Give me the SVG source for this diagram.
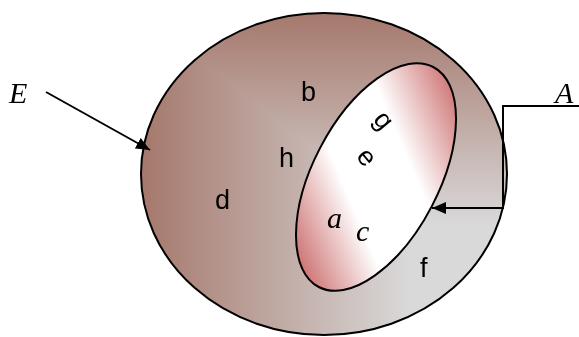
<svg xmlns="http://www.w3.org/2000/svg" width="579" height="337" viewBox="0 0 579 337">
  <style>
    .edge { fill: none; stroke: #000; stroke-width: 2; }
    .line { fill: none; stroke: #000; stroke-width: 2; }
    .sans { font-family: "Liberation Sans", Arial, sans-serif; font-size: 27px; fill: #000; }
    .math { font-family: "Liberation Serif", "Times New Roman", serif; font-style: italic; fill: #000; }
  </style>
  <defs>
    <linearGradient id="gh" gradientUnits="userSpaceOnUse" x1="141" y1="0" x2="410" y2="0">
      <stop offset="0" stop-color="#a5786c"/>
      <stop offset="1" stop-color="#d9d9d9"/>
    </linearGradient>
    <linearGradient id="gv" gradientUnits="userSpaceOnUse" x1="0" y1="13" x2="0" y2="225">
      <stop offset="0" stop-color="#a5786c"/>
      <stop offset="1" stop-color="#d9d9d9"/>
    </linearGradient>
    <linearGradient id="gi" gradientUnits="userSpaceOnUse" x1="300" y1="270" x2="455" y2="82">
      <stop offset="0" stop-color="#c45656"/>
      <stop offset="0.36" stop-color="#ffffff"/>
      <stop offset="0.64" stop-color="#ffffff"/>
      <stop offset="1" stop-color="#c45656"/>
    </linearGradient>
    <marker id="ah" viewBox="0 0 14 12" refX="14" refY="6" markerWidth="14" markerHeight="12" markerUnits="userSpaceOnUse" orient="auto">
      <path d="M0,0 L14,6 L0,12 Z" fill="#000"/>
    </marker>
  </defs>

  <g id="E-set">
    <ellipse cx="324" cy="174" rx="183" ry="161" fill="url(#gh)"/>
    <ellipse cx="324" cy="174" rx="183" ry="161" fill="url(#gv)" style="mix-blend-mode: darken"/>
    <ellipse class="edge" cx="324" cy="174" rx="183" ry="161"/>
  </g>

  <g id="A-set">
    <ellipse cx="376" cy="177" rx="63" ry="124" transform="rotate(27.5 376 177)" fill="url(#gi)"/>
    <ellipse class="edge" cx="376" cy="177" rx="63" ry="124" transform="rotate(27.5 376 177)"/>
  </g>

  <g id="connectors">
    <line class="line" x1="46" y1="92" x2="150" y2="150" marker-end="url(#ah)"/>
    <polyline class="line" points="579,106 503,106 503,208 432,208" marker-end="url(#ah)"/>
  </g>

  <g id="labels">
    <text class="math" x="9" y="103" font-size="30">E</text>
    <text class="math" x="555" y="103" font-size="30">A</text>
    <text class="sans" x="301" y="101">b</text>
    <text class="sans" x="279" y="167">h</text>
    <text class="sans" x="215" y="209">d</text>
    <text class="sans" x="420" y="277">f</text>
    <text class="sans" text-anchor="middle" dominant-baseline="central" transform="translate(384,120) rotate(50)">g</text>
    <text class="sans" text-anchor="middle" dominant-baseline="central" transform="translate(367,157) rotate(50)">e</text>
    <text class="math" x="327" y="228" font-size="30">a</text>
    <text class="math" x="356" y="241" font-size="30" font-style="normal">c</text>
  </g>
</svg>
